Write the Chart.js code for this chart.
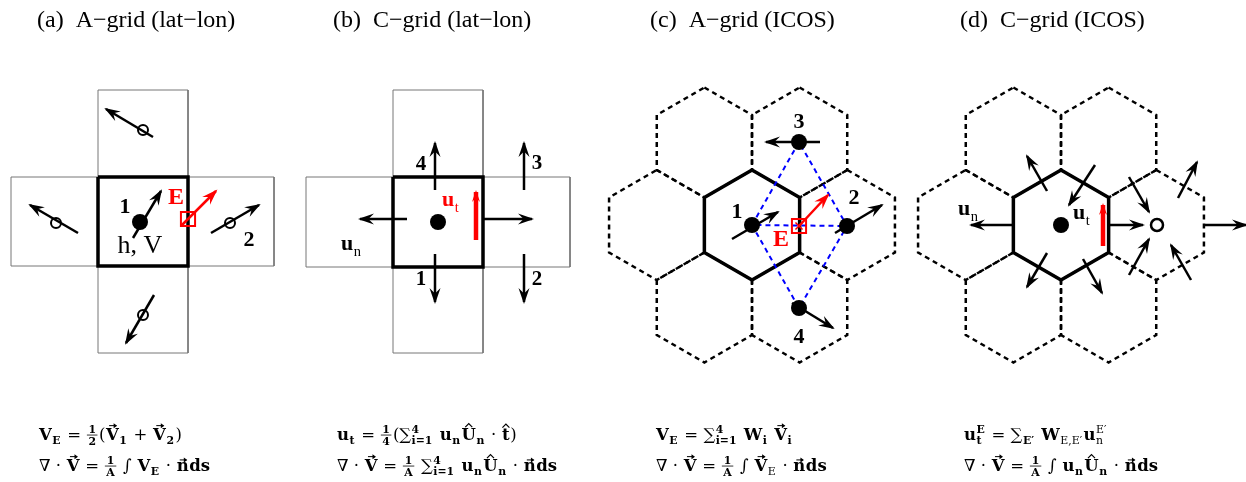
<!DOCTYPE html>
<html>
<head>
<meta charset="utf-8">
<script src="https://cdn.jsdelivr.net/npm/chart.js"></script>
<style>
  html, body { margin: 0; padding: 0; background: #fff; }
  canvas { display: block; }
</style>
</head>
<body>
<canvas id="grids" width="1246" height="482"></canvas>
<script>
var titles = ["(a)  A\u2212grid (lat\u2212lon)", "(b)  C\u2212grid (lat\u2212lon)", "(c)  A\u2212grid (ICOS)", "(d)  C\u2212grid (ICOS)"];

// lat-lon cells [xmin, ymin, xmax, ymax], first one is the central cell
var cellsA = [[98, 177, 188, 266], [98, 90, 188, 177], [98, 266, 188, 353], [11, 177, 98, 266], [188, 177, 274, 266]];
var cellsB = [[393, 177, 483, 267], [393, 90, 483, 177], [393, 267, 483, 353], [306, 177, 393, 267], [483, 177, 570, 267]];

// icos cells: centre of the middle hexagon and offsets of the neighbours
var hexCentreC = [752, 225];
var hexCentreD = [1061, 225];
var neighbourOffsets = [[-47.6, -82.5], [47.6, -82.5], [-95.3, 0], [95.3, 0], [-47.6, 82.5], [47.6, 82.5]];

// vectors [x0, y0, x1, y1]
var vectorsA = [[133, 238, 161, 191], [153, 137, 106, 109], [78, 233, 30, 205], [211, 233, 259, 205], [154, 295, 126, 343]];
var edgeVectorA = [181, 226, 216, 191];
var massA = [[140, 222]];
var windA = [[143, 130], [56, 223], [230, 223], [143, 315]];
var edgeA = [[188, 219]];

var vectorsB = [[407, 219, 360, 219], [483, 219, 532, 219], [435, 190, 435, 143], [435, 254, 435, 302], [524, 190, 524, 143], [524, 254, 524, 302]];
var tangentB = [476, 240, 476, 192];
var massB = [[438, 222]];

var vectorsC = [[732, 239, 778, 212], [820, 142, 766, 142], [835, 233, 882, 205], [792, 303, 833, 328]];
var edgeVectorC = [799, 226, 828, 195];
var massC = [[752, 225], [847, 226], [799, 142], [799, 308]];
var stencilC = [[752, 225], [799, 142], [847, 226], [799, 308], [752, 225], [847, 226]];
var edgeC = [[799, 226]];

var vectorsD = [[1012, 225, 971, 225], [1109, 225, 1143, 225], [1205, 225, 1246, 225],
  [1047, 191, 1027, 156], [1095, 165, 1069, 205], [1047, 253, 1027, 287], [1083, 259, 1102, 293],
  [1129, 177, 1149, 212], [1129, 275, 1149, 239], [1178, 198, 1197, 162], [1191, 280, 1171, 245]];
var tangentD = [1103, 246, 1103, 205];
var massD = [[1061, 225]];
var vertexD = [[1157, 225]];

// ---------------------------------------------------------------------------
var SERIF = '"Liberation Serif", "DejaVu Serif", serif';
var MATH = '"DejaVu Serif", "Liberation Serif", serif';
var HEX_R = 55;
var HEAD = [16, 5.5];
var ds = [];

function xy(p) { return { x: p[0], y: p[1] }; }
function rectPts(r) { return [[r[0], r[1]], [r[2], r[1]], [r[2], r[3]], [r[0], r[3]], [r[0], r[1]]]; }
function hexPts(c, R) {
  var out = [];
  for (var k = 0; k <= 6; k++) {
    var a = (-90 + 60 * k) * Math.PI / 180;
    out.push([c[0] + R * Math.cos(a), c[1] + R * Math.sin(a)]);
  }
  return out;
}
function poly(p, color, w, dash) {
  ds.push({ data: p.map(xy), showLine: true, borderColor: color, borderWidth: w, borderDash: dash || [],
    borderJoinStyle: 'miter', pointRadius: 0, fill: false });
}
function arrow(v, color, w, head) {
  ds.push({ data: [xy([v[0], v[1]]), xy([v[2], v[3]])], showLine: true, borderColor: color, borderWidth: w,
    pointRadius: 0, fill: false, head: head });
}
function dots(p, r, fill, border, bw, style) {
  ds.push({ data: p.map(xy), showLine: false, pointRadius: r, pointBackgroundColor: fill, pointBorderColor: border,
    pointBorderWidth: bw, pointStyle: style || 'circle' });
}

// (a)
cellsA.slice(1).forEach(function (c) { poly(rectPts(c), '#777', 1); });
poly(rectPts(cellsA[0]), '#000', 3.5);
vectorsA.forEach(function (v) { arrow(v, '#000', 2.5, HEAD); });
arrow(edgeVectorA, '#f00', 2.5, HEAD);
dots(windA, 5, 'rgba(0,0,0,0)', '#000', 2);
dots(massA, 8, '#000', '#000', 0);
dots(edgeA, 10, 'rgba(0,0,0,0)', '#f00', 2, 'rect');

// (b)
cellsB.slice(1).forEach(function (c) { poly(rectPts(c), '#777', 1); });
poly(rectPts(cellsB[0]), '#000', 3.5);
vectorsB.forEach(function (v) { arrow(v, '#000', 2.5, HEAD); });
arrow(tangentB, '#f00', 4.5, [12, 4]);
dots(massB, 8, '#000', '#000', 0);

// (c)
neighbourOffsets.forEach(function (o) { poly(hexPts([hexCentreC[0] + o[0], hexCentreC[1] + o[1]], HEX_R), '#000', 2.5, [5, 4]); });
poly(hexPts(hexCentreC, HEX_R), '#000', 3.5);
poly(stencilC, '#0000ff', 2, [5, 4]);
vectorsC.forEach(function (v) { arrow(v, '#000', 2.5, HEAD); });
dots(massC, 8, '#000', '#000', 0);
dots(edgeC, 10, 'rgba(0,0,0,0)', '#f00', 2, 'rect');
dots(edgeC, 5, 'rgba(0,0,0,0)', '#f00', 1.5, 'crossRot');
arrow(edgeVectorC, '#f00', 2.5, HEAD);

// (d)
neighbourOffsets.forEach(function (o) { poly(hexPts([hexCentreD[0] + o[0], hexCentreD[1] + o[1]], HEX_R), '#000', 2.5, [5, 4]); });
poly(hexPts(hexCentreD, HEX_R), '#000', 3.5);
vectorsD.forEach(function (v) { arrow(v, '#000', 2.5, HEAD); });
arrow(tangentD, '#f00', 4.5, [12, 4]);
dots(massD, 8, '#000', '#000', 0);
dots(vertexD, 6, '#fff', '#000', 2.5);

// later datasets on top
ds.forEach(function (d, i) { d.order = ds.length - i; });

// ---------------------------------------------------------------------------
// rich text runs for labels and formulas
function R(t) { return { t: t }; }
function B(t) { return { t: t, b: 1 }; }
function S(t, plain) { return { t: t, b: !plain, sub: 1 }; }
function SS(sup, sub, plain) { return { sup: sup, sub2: sub, b: !plain }; }
function FR(n, d) { return { num: n, den: d }; }
function VEC(t) { return { t: t, b: 1, vec: 1 }; }
function HAT(t) { return { t: t, b: 1, hat: 1 }; }

function font(b, s, fam) { return (b ? 'bold ' : '') + s + 'px ' + (fam || SERIF); }

function drawRuns(ctx, runs, x, y, size, color, fam) {
  ctx.fillStyle = color; ctx.strokeStyle = color;
  ctx.textAlign = 'left'; ctx.textBaseline = 'alphabetic';
  runs.forEach(function (r) {
    var w;
    if (r.num !== undefined) {
      var fs = size * 0.66;
      ctx.font = font(1, fs, fam);
      var wn = ctx.measureText(r.num).width, wd = ctx.measureText(r.den).width;
      w = Math.max(wn, wd) + 3;
      ctx.fillText(r.num, x + (w - wn) / 2, y - size * 0.4);
      ctx.fillText(r.den, x + (w - wd) / 2, y + size * 0.32);
      ctx.lineWidth = 0.8;
      ctx.beginPath(); ctx.moveTo(x, y - size * 0.3); ctx.lineTo(x + w, y - size * 0.3); ctx.stroke();
      x += w + 1.5;
      return;
    }
    if (r.sup !== undefined) {
      var ss = size * 0.66;
      ctx.font = font(r.b, ss, fam);
      var w1 = ctx.measureText(r.sup).width, w2 = ctx.measureText(r.sub2).width;
      ctx.fillText(r.sup, x, y - size * 0.42);
      ctx.fillText(r.sub2, x, y + size * 0.25);
      x += Math.max(w1, w2) + 1.5;
      return;
    }
    var s = r.sub ? size * 0.66 : size;
    var yy = r.sub ? y + size * 0.25 : y;
    ctx.font = font(r.b, s, fam);
    w = ctx.measureText(r.t).width;
    ctx.fillText(r.t, x, yy);
    if (r.vec) {
      var top = y - (r.t === 'n' ? size * 0.55 : size * 0.75) - 2;
      var x0 = x + w * 0.25, x1 = x + w * 0.8;
      ctx.lineWidth = 1;
      ctx.beginPath(); ctx.moveTo(x0, top); ctx.lineTo(x1, top); ctx.stroke();
      ctx.beginPath(); ctx.moveTo(x1 + 1, top); ctx.lineTo(x1 - 2.5, top - 2.5); ctx.lineTo(x1 - 2.5, top + 2.5); ctx.closePath(); ctx.fill();
    }
    if (r.hat) {
      var ht = y - (r.t === 't' ? size * 0.72 : size * 0.75) - 2;
      var cx = x + w / 2;
      ctx.lineWidth = 1.2;
      ctx.beginPath(); ctx.moveTo(cx - 3.5, ht + 1.5); ctx.lineTo(cx, ht - 2); ctx.lineTo(cx + 3.5, ht + 1.5); ctx.stroke();
    }
    x += w + (r.sub ? 1.5 : 0.5);
  });
}

var labels = [
  // panel a
  { x: 125, y: 207, text: '1', size: 22, b: 1, color: '#000' },
  { x: 176, y: 198, text: 'E', size: 24, b: 1, color: '#f00' },
  { x: 140, y: 246, text: 'h, V', size: 26, b: 0, color: '#000' },
  { x: 249, y: 240, text: '2', size: 22, b: 1, color: '#000' },
  // panel b
  { x: 421, y: 165, text: '4', size: 21, b: 1, color: '#000' },
  { x: 537, y: 164, text: '3', size: 21, b: 1, color: '#000' },
  { x: 421, y: 280, text: '1', size: 21, b: 1, color: '#000' },
  { x: 537, y: 280, text: '2', size: 21, b: 1, color: '#000' },
  // panel c
  { x: 737, y: 212, text: '1', size: 22, b: 1, color: '#000' },
  { x: 799, y: 122, text: '3', size: 22, b: 1, color: '#000' },
  { x: 854, y: 198, text: '2', size: 22, b: 1, color: '#000' },
  { x: 799, y: 337, text: '4', size: 22, b: 1, color: '#000' },
  { x: 781, y: 240, text: 'E', size: 24, b: 1, color: '#f00' }
];

var runLabels = [
  { x: 341, y: 250, size: 22, color: '#000', runs: [B('u'), S('n', 1)] },
  { x: 442, y: 206, size: 22, color: '#f00', runs: [B('u'), S('t', 1)] },
  { x: 958, y: 215, size: 22, color: '#000', runs: [B('u'), S('n', 1)] },
  { x: 1073, y: 219, size: 22, color: '#000', runs: [B('u'), S('t', 1)] }
];

var formulas = [
  { x: 39, y: 440, runs: [B('V'), S('E'), R(' = '), FR('1', '2'), R('('), VEC('V'), S('1'), R(' + '), VEC('V'), S('2'), R(')')] },
  { x: 39, y: 471, runs: [R('\u2207 \u00b7 '), VEC('V'), R(' = '), FR('1', 'A'), R(' \u222b '), B('V'), S('E'), R(' \u00b7 '), VEC('n'), B('ds')] },
  { x: 337, y: 440, runs: [B('u'), S('t'), R(' = '), FR('1', '4'), R('(\u2211'), SS('4', 'i=1'), R(' '), B('u'), S('n'), HAT('U'), S('n'), R(' \u00b7 '), HAT('t'), R(')')] },
  { x: 337, y: 471, runs: [R('\u2207 \u00b7 '), VEC('V'), R(' = '), FR('1', 'A'), R(' \u2211'), SS('4', 'i=1'), R(' '), B('u'), S('n'), HAT('U'), S('n'), R(' \u00b7 '), VEC('n'), B('ds')] },
  { x: 656, y: 440, runs: [B('V'), S('E'), R(' = \u2211'), SS('4', 'i=1'), R(' '), B('W'), S('i'), R(' '), VEC('V'), S('i')] },
  { x: 656, y: 471, runs: [R('\u2207 \u00b7 '), VEC('V'), R(' = '), FR('1', 'A'), R(' \u222b '), VEC('V'), S('E', 1), R(' \u00b7 '), VEC('n'), B('ds')] },
  { x: 964, y: 440, runs: [B('u'), SS('E', 't'), R(' = \u2211'), S('E\u2032'), R(' '), B('W'), S('E,E\u2032', 1), B('u'), SS('E\u2032', 'n', 1)] },
  { x: 964, y: 471, runs: [R('\u2207 \u00b7 '), VEC('V'), R(' = '), FR('1', 'A'), R(' \u222b '), B('u'), S('n'), HAT('U'), S('n'), R(' \u00b7 '), VEC('n'), B('ds')] }
];

var titleX = [37, 333, 650, 960];

var arrowHeads = {
  id: 'arrowHeads',
  afterDatasetsDraw: function (chart) {
    var ctx = chart.ctx;
    chart.data.datasets.forEach(function (d, i) {
      if (!d.head) return;
      var m = chart.getDatasetMeta(i).data;
      var a = Math.atan2(m[1].y - m[0].y, m[1].x - m[0].x);
      var L = d.head[0], W = d.head[1];
      ctx.save();
      ctx.translate(m[1].x, m[1].y);
      ctx.rotate(a);
      ctx.translate(2, 0);
      ctx.beginPath();
      ctx.moveTo(0, 0); ctx.lineTo(-L, -W); ctx.lineTo(-L * 0.65, 0); ctx.lineTo(-L, W); ctx.closePath();
      ctx.fillStyle = d.borderColor; ctx.fill();
      ctx.restore();
    });
  }
};

var textLayer = {
  id: 'textLayer',
  afterDraw: function (chart) {
    var ctx = chart.ctx, sx = chart.scales.x, sy = chart.scales.y;
    ctx.save();
    ctx.fillStyle = '#000';
    ctx.font = '24px ' + SERIF;
    ctx.textAlign = 'left'; ctx.textBaseline = 'alphabetic';
    titles.forEach(function (t, i) { ctx.fillText(t, sx.getPixelForValue(titleX[i]), sy.getPixelForValue(27)); });
    ctx.textAlign = 'center'; ctx.textBaseline = 'middle';
    labels.forEach(function (l) {
      ctx.font = font(l.b, l.size);
      ctx.fillStyle = l.color;
      ctx.fillText(l.text, sx.getPixelForValue(l.x), sy.getPixelForValue(l.y));
    });
    runLabels.forEach(function (l) { drawRuns(ctx, l.runs, sx.getPixelForValue(l.x), sy.getPixelForValue(l.y), l.size, l.color); });
    formulas.forEach(function (f) { drawRuns(ctx, f.runs, sx.getPixelForValue(f.x), sy.getPixelForValue(f.y), 16.5, '#000', MATH); });
    ctx.restore();
  }
};

new Chart('grids', {
  type: 'scatter',
  data: { datasets: ds },
  options: {
    responsive: false,
    animation: false,
    events: [],
    layout: { padding: 0, autoPadding: false },
    plugins: { legend: { display: false }, tooltip: { enabled: false } },
    scales: {
      x: { type: 'linear', min: 0, max: 1246, display: false },
      y: { type: 'linear', min: 0, max: 482, reverse: true, display: false }
    }
  },
  plugins: [arrowHeads, textLayer]
});
</script>
</body>
</html>
